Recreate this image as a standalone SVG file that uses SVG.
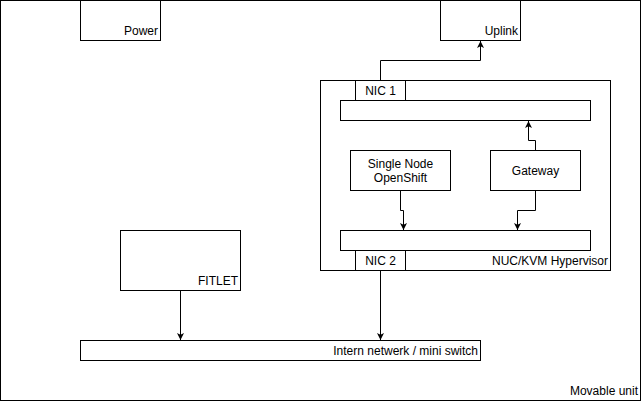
<svg xmlns="http://www.w3.org/2000/svg" width="641" height="401" viewBox="0 0 641 401">
<defs>
<style>
.box{fill:#fff;stroke:#000;stroke-width:1}
.t{font-family:"Liberation Sans",Arial,sans-serif;font-size:12px;fill:#000}
.r{text-anchor:end}
.c{text-anchor:middle}
.ln{fill:none;stroke:#000;stroke-width:1}
</style>
<marker id="ah" markerWidth="8" markerHeight="8" viewBox="0 0 8 8" refX="7" refY="4" orient="auto" markerUnits="userSpaceOnUse">
<path d="M0,0.5 L7,4 L0,7.5 L1.8,4 Z" fill="#000"/>
</marker>
</defs>
<g id="movable-unit"><rect class="box" x="0.5" y="0.5" width="640" height="400"/><text class="t r" x="638" y="395">Movable unit</text></g>
<g id="power"><rect class="box" x="80.5" y="0.5" width="80" height="40"/><text class="t r" x="158" y="35">Power</text></g>
<g id="uplink"><rect class="box" x="440.5" y="0.5" width="80" height="40"/><text class="t r" x="518" y="35">Uplink</text></g>
<g id="hypervisor"><rect class="box" x="320.5" y="80.5" width="290" height="190"/><text class="t r" x="608" y="265">NUC/KVM Hypervisor</text></g>
<g id="nic1"><rect class="box" x="355.5" y="80.5" width="50" height="20"/><text class="t c" x="380.5" y="95">NIC 1</text></g>
<g id="top-bar"><rect class="box" x="340.5" y="100.5" width="250" height="20"/></g>
<g id="single-node"><rect class="box" x="350.5" y="150.5" width="100" height="40"/><text class="t c" x="400.5" y="168">Single Node</text><text class="t c" x="400.5" y="182">OpenShift</text></g>
<g id="gateway"><rect class="box" x="490.5" y="150.5" width="90" height="40"/><text class="t c" x="535.5" y="175">Gateway</text></g>
<g id="bottom-bar"><rect class="box" x="340.5" y="230.5" width="250" height="20"/></g>
<g id="nic2"><rect class="box" x="355.5" y="250.5" width="50" height="20"/><text class="t c" x="380.5" y="265">NIC 2</text></g>
<g id="fitlet"><rect class="box" x="120.5" y="230.5" width="120" height="60"/><text class="t r" x="238" y="285">FITLET</text></g>
<g id="switch"><rect class="box" x="80.5" y="340.5" width="400" height="20"/><text class="t r" x="478" y="355">Intern netwerk / mini switch</text></g>
<g id="connectors">
<path class="ln" d="M380.5,80.5 V60.5 H480.5 V41" marker-end="url(#ah)"/>
<path class="ln" d="M535.5,150.5 V140.5 H528.5 V121" marker-end="url(#ah)"/>
<path class="ln" d="M400.5,190.5 V210.5 H403.5 V230" marker-end="url(#ah)"/>
<path class="ln" d="M535.5,190.5 V210.5 H517.5 V230" marker-end="url(#ah)"/>
<path class="ln" d="M380.5,270.5 V340" marker-end="url(#ah)"/>
<path class="ln" d="M180.5,290.5 V340" marker-end="url(#ah)"/>
</g>
</svg>
